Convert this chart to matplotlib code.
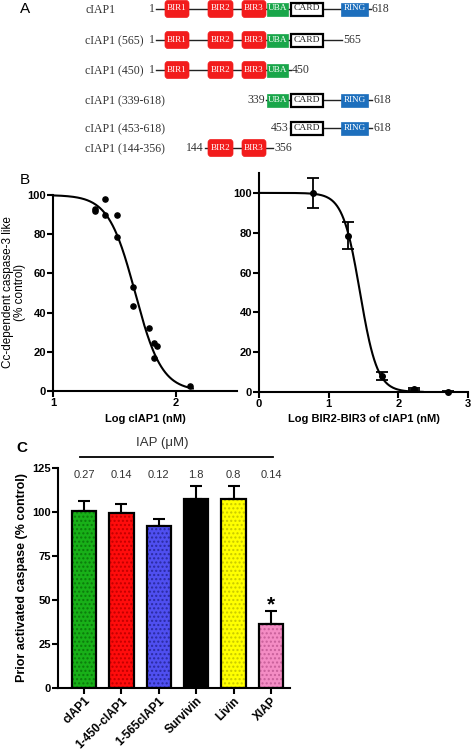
import numpy as np
import matplotlib.pyplot as plt
from matplotlib.patches import Rectangle, FancyBboxPatch

W, H = 472, 752

# ---- panel A: constructs
constructs = ["cIAP1", "cIAP1 (565)", "cIAP1 (450)", "cIAP1 (339-618)",
              "cIAP1 (453-618)", "cIAP1 (144-356)"]
construct_domains = [
    ["BIR1", "BIR2", "BIR3", "UBA", "CARD", "RING"],
    ["BIR1", "BIR2", "BIR3", "UBA", "CARD"],
    ["BIR1", "BIR2", "BIR3", "UBA"],
    ["UBA", "CARD", "RING"],
    ["CARD", "RING"],
    ["BIR2", "BIR3"],
]
start_res = ["1", "1", "1", "339", "453", "144"]
end_res = ["618", "565", "450", "618", "618", "356"]

# ---- panel B: dose response
left_logx = [1.34, 1.34, 1.42, 1.42, 1.52, 1.52, 1.65, 1.65, 1.78, 1.825, 1.845, 1.825, 2.12]
left_y = [93, 92, 98, 89.8, 90, 78.7, 53, 43.5, 32, 24.6, 23, 16.7, 2.5]
left_fit = (1.67, 4.0)      # log IC50, hill slope

right_logx = [0.78, 1.28, 1.76, 2.23, 2.71]
right_y = [100, 78.5, 8, 1.3, 0.2]
right_err = [7.5, 6.8, 2.0, 0.5, 0.3]
right_fit = (1.45, 3.5)

# ---- panel C: prior activated caspase
iap_names = ["cIAP1", "1-450-cIAP1", "1-565cIAP1", "Survivin", "Livin", "XIAP"]
iap_conc = ["0.27", "0.14", "0.12", "1.8", "0.8", "0.14"]
iap_mean = [100.8, 99.2, 92.2, 107.5, 107.4, 36.4]
iap_err = [5.3, 5.5, 3.6, 7.5, 7.2, 7.6]


def pos(x0, y0, x1, y1):
    return [x0 / W, 1 - y1 / H, (x1 - x0) / W, (y1 - y0) / H]


def logistic(x, fit):
    c, h = fit
    return 100 / (1 + 10 ** ((x - c) * h))


plt.rcParams["font.family"] = ["Liberation Sans", "DejaVu Sans"]
fig = plt.figure(figsize=(W / 100, H / 100), dpi=100, facecolor="white")

# =================== A ===================
ax_a = fig.add_axes([0, 0, 1, 1])
ax_a.set_xlim(0, W)
ax_a.set_ylim(H, 0)
ax_a.axis("off")

serif = ["Liberation Serif", "DejaVu Serif"]
row_y = [9, 40, 70, 100, 128, 148]
dom_span = {"BIR1": (165, 189), "BIR2": (208, 233), "BIR3": (242, 266),
            "UBA": (267, 288), "CARD": (291, 323), "RING": (341, 368)}
dom_style = {"BIR1": ("#f21c1c", 17), "BIR2": ("#f21c1c", 17), "BIR3": ("#f21c1c", 17),
             "UBA": ("#19a64a", 13), "CARD": ("white", 13), "RING": ("#1d6fbd", 13)}
line_span = [(156, 371), (156, 342), (156, 291), (266, 372), (290, 372), (205, 273)]

fig.text(20 / W, 1 - 9 / H, "A", fontsize=11, va="center", ha="left")
for i, name in enumerate(constructs):
    y = row_y[i]
    ax_a.text(85, y + 1, name, fontsize=8.5, family=serif, color="#333333",
              va="center", ha="left")
    x0, x1 = line_span[i]
    ax_a.plot([x0, x1], [y, y], color="#222222", lw=1.0, zorder=1)
    ax_a.text(x0 - 1, y, start_res[i], fontsize=8.5, family=serif, color="#333333",
              va="center", ha="right")
    ax_a.text(x1 + 1, y, end_res[i], fontsize=8.5, family=serif, color="#333333",
              va="center", ha="left")
    for d in construct_domains[i]:
        a, b = dom_span[d]
        col, hh = dom_style[d]
        if d.startswith("BIR"):
            p = FancyBboxPatch((a + 2, y - hh / 2 + 2), b - a - 4, hh - 4,
                               boxstyle="round,pad=2,rounding_size=3",
                               facecolor=col, edgecolor=col, lw=0.5, zorder=2)
        elif d == "CARD":
            p = Rectangle((a, y - hh / 2), b - a, hh, facecolor="white",
                          edgecolor="black", lw=1.6, zorder=2)
        else:
            p = Rectangle((a, y - hh / 2), b - a, hh, facecolor=col,
                          edgecolor=col, lw=0.5, zorder=2)
        ax_a.add_patch(p)
        ax_a.text((a + b) / 2, y - 0.5, d, fontsize=6.6 if d != "CARD" else 6.8,
                  family=serif, color="white" if d != "CARD" else "#222222",
                  va="center", ha="center", zorder=3)


def style_axis(ax, lw=1.5):
    ax.spines["top"].set_visible(False)
    ax.spines["right"].set_visible(False)
    ax.spines["left"].set_linewidth(lw)
    ax.spines["bottom"].set_linewidth(lw)
    ax.tick_params(width=lw, length=4, labelsize=8, pad=1)
    for lab in ax.get_xticklabels() + ax.get_yticklabels():
        lab.set_fontweight("bold")


# =================== B left ===================
fig.text(20 / W, 1 - 180 / H, "B", fontsize=11, va="center", ha="left")
ax_bl = fig.add_axes(pos(53, 195, 237, 391))
ax_bl.set_xlim(1, 2.5)
ax_bl.set_ylim(0, 100)
ax_bl.set_xticks([1, 2])
ax_bl.set_yticks([0, 20, 40, 60, 80, 100])
xs = np.linspace(1, 2.14, 200)
ax_bl.plot(xs, logistic(xs, left_fit), color="black", lw=1.5, clip_on=False)
ax_bl.scatter(left_logx, left_y, s=14, color="black", zorder=3, clip_on=False)
ax_bl.set_xlabel("Log cIAP1 (nM)", fontsize=8, fontweight="bold", labelpad=4)
style_axis(ax_bl)
fig.text(14 / W, 1 - 292 / H, "Cc-dependent caspase-3 like\n(% control)", rotation=90,
         fontsize=8.5, ha="center", va="center", multialignment="center", linespacing=1.1)

# =================== B right ===================
ax_br = fig.add_axes(pos(259, 173, 468, 392))
ax_br.set_xlim(0, 3)
ax_br.set_ylim(0, 110)
ax_br.set_xticks([0, 1, 2, 3])
ax_br.set_yticks([0, 20, 40, 60, 80, 100])
xs = np.linspace(0, 2.35, 200)
ax_br.plot(xs, logistic(xs, right_fit), color="black", lw=1.5, clip_on=False)
ax_br.errorbar(right_logx, right_y, yerr=right_err, fmt="o", ms=4, color="black",
               ecolor="black", elinewidth=1.3, capsize=4, capthick=1.3, clip_on=False, zorder=3)
ax_br.set_xlabel("Log BIR2-BIR3 of cIAP1 (nM)", fontsize=8, fontweight="bold", labelpad=4)
style_axis(ax_br)

# =================== C ===================
fig.text(16 / W, 1 - 448 / H, "C", fontsize=11, va="center", ha="left", fontweight="bold")
ax_c = fig.add_axes(pos(58, 468, 290, 688))
bar_colors = ["#18b018", "#ff0c0c", "#4f4ff0", "#000000", "#ffff00", "#f48cc4"]
dot_colors = ["#0b7a0b", "#c00000", "#2a2aa0", "#000000", "#c8c800", "#c8609a"]
xpos = np.arange(len(iap_names))
for i in xpos:
    ax_c.bar(i, iap_mean[i], width=0.65, color=bar_colors[i], edgecolor=dot_colors[i],
             hatch="....", linewidth=0, zorder=2)
ax_c.bar(xpos, iap_mean, width=0.65, fill=False, edgecolor="black", linewidth=1.6, zorder=3)
ax_c.errorbar(xpos, iap_mean, yerr=[np.zeros(len(iap_err)), iap_err], fmt="none",
              ecolor="black", elinewidth=1.5, capsize=4.5, capthick=1.5, zorder=1)
ax_c.set_xlim(-0.695, 5.51)
ax_c.set_ylim(0, 125)
ax_c.set_yticks([0, 25, 50, 75, 100, 125])
ax_c.set_xticks(xpos)
ax_c.set_xticklabels(iap_names, rotation=45, ha="right", rotation_mode="anchor")
for i in xpos:
    ax_c.text(i, 121, iap_conc[i], fontsize=8, color="#333333", ha="center", va="center")
ax_c.text(xpos[-1], iap_mean[-1] + iap_err[-1] + 3, "*", fontsize=15, fontweight="bold",
          ha="center", va="center")
ax_c.plot([-0.1, 5.05], [131, 131], color="black", lw=1.3, clip_on=False)
ax_c.text(2.1, 139, "IAP (\u03bcM)", fontsize=9.5, color="#333333", ha="center", va="center")
ax_c.set_ylabel("Prior activated caspase (% control)", fontsize=9, fontweight="bold", labelpad=3)
style_axis(ax_c)
ax_c.tick_params(axis="x", labelsize=8.5)

fig.savefig("out.png", dpi=100)
